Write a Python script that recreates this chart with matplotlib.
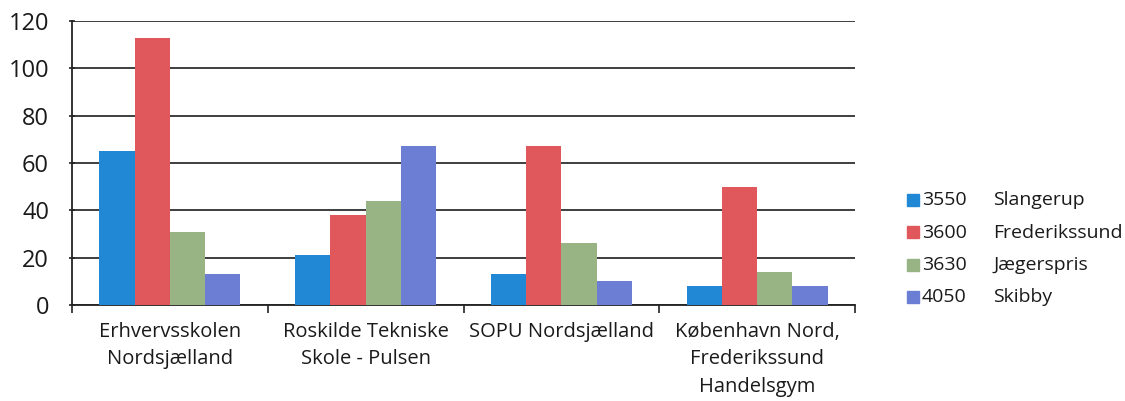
import matplotlib
matplotlib.use("Agg")
import matplotlib.pyplot as plt
import numpy as np
from matplotlib.patches import Rectangle

categories = ["Erhvervsskolen\nNordsjælland", "Roskilde Tekniske\nSkole - Pulsen",
              "SOPU Nordsjælland", "København Nord,\nFrederikssund\nHandelsgym"]
codes = ["3550", "3600", "3630", "4050"]
towns = ["Slangerup", "Frederikssund", "Jægerspris", "Skibby"]
s3550 = [65, 21, 13, 8]
s3600 = [113, 38, 67, 50]
s3630 = [31, 44, 26, 14]
s4050 = [13, 67, 10, 8]
series = [s3550, s3600, s3630, s4050]
colors = ["#2188d6", "#e0585c", "#98b485", "#6b7ed4"]
yticks = [0, 20, 40, 60, 80, 100, 120]

plt.rcParams['font.family'] = ['Open Sans', 'DejaVu Sans']
fig = plt.figure(figsize=(11.25, 4.01), dpi=100)
ax = fig.add_axes([72/1125, 1-305/401, (855-72)/1125, (305-21)/401])

x = np.arange(len(categories))
w = 0.18
for i, (vals, c) in enumerate(zip(series, colors)):
    ax.bar(x + (i-1.5)*w, vals, width=w, color=c, zorder=3)

ax.set_xlim(-0.5, len(categories)-0.5)
ax.set_ylim(0, 120)
ax.set_yticks(yticks)
ax.set_yticklabels([str(t) for t in yticks], fontsize=17, color="#1a1a1a")
ax.yaxis.grid(True, color="#1e1e1e", linewidth=1.2, zorder=0)
ax.set_axisbelow(True)
ax.set_xticks(x)
ax.set_xticklabels(categories, fontsize=14.5, color="#1a1a1a", linespacing=1.5)
ax.tick_params(axis='x', length=0, pad=12)
ax.set_xticks(np.arange(-0.5, len(categories), 1), minor=True)
ax.tick_params(axis='x', which='minor', length=6, width=1.2, color="#222222", direction='out')
ax.tick_params(axis='y', length=5, width=1.2, color="#222222", direction='inout', pad=14)
for s in ['top', 'right']:
    ax.spines[s].set_visible(False)
ax.spines['left'].set_color("#222222")
ax.spines['left'].set_linewidth(1.3)
ax.spines['bottom'].set_color("#222222")
ax.spines['bottom'].set_linewidth(1.3)

# legend
y0 = 200
dy = 32.5
for i, (c, code, town) in enumerate(zip(colors, codes, towns)):
    yc = 1 - (y0 + i*dy)/401
    fig.patches.append(Rectangle((907/1125, yc - 5.5/401), 12/1125, 12/401,
                                 transform=fig.transFigure, color=c, figure=fig))
    fig.text(922/1125, yc, code, fontsize=14, va='center', ha='left', color="#1a1a1a")
    fig.text(993/1125, yc, town, fontsize=14, va='center', ha='left', color="#1a1a1a")

fig.savefig("out.png", dpi=100, facecolor="white")
